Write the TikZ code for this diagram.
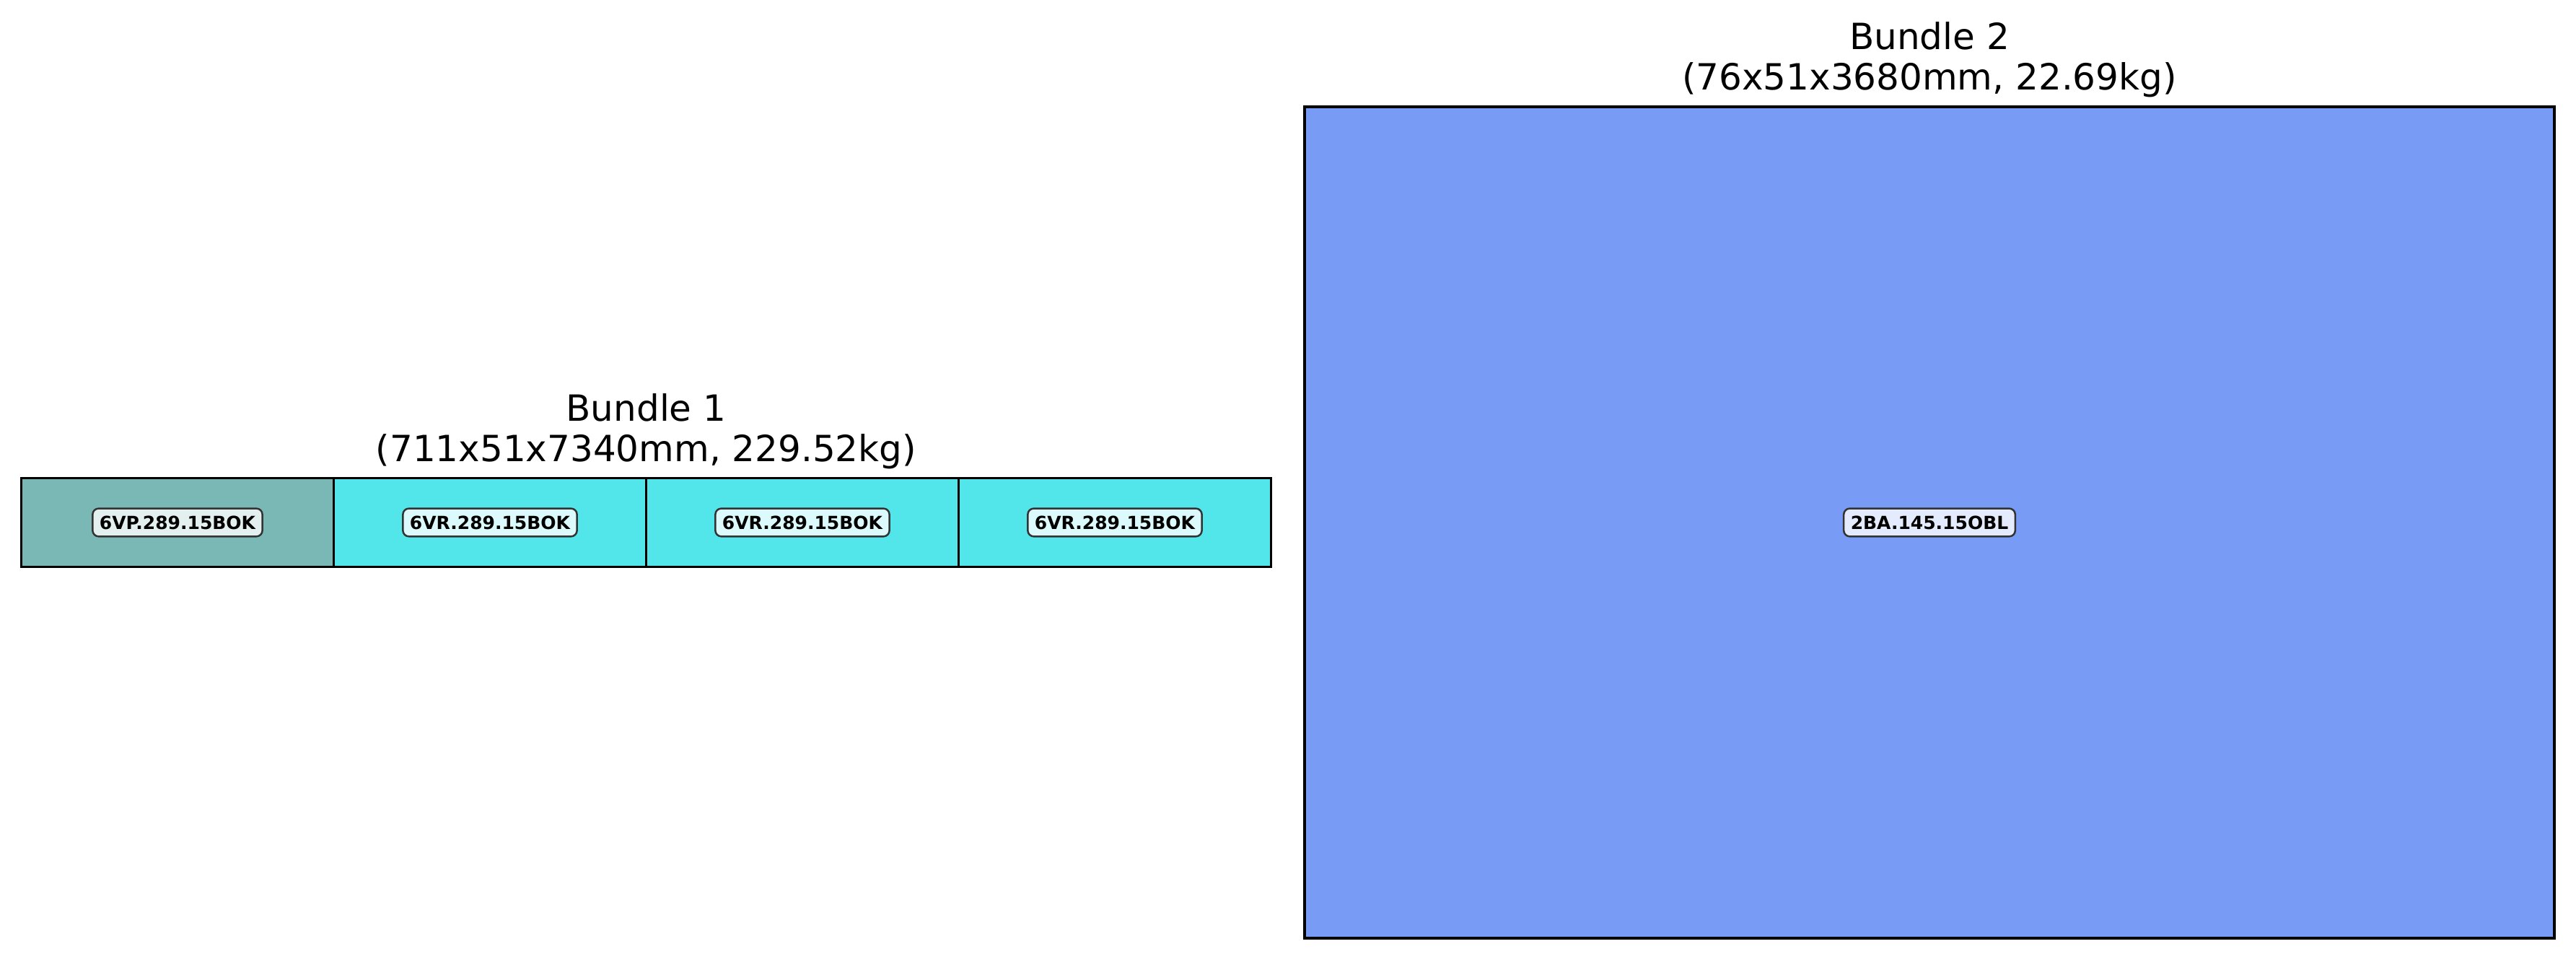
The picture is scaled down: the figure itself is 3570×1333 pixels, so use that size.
\documentclass[tikz,border=0pt]{standalone}
\usepackage{fontspec}
\setmainfont{DejaVu Sans}
\usepackage{xcolor}
\usetikzlibrary{positioning}
\definecolor{segteal}{RGB}{122,184,181}
\definecolor{segcyan}{RGB}{82,230,235}
\definecolor{segblue}{RGB}{120,155,245}

\begin{document}
\begin{tikzpicture}[x=0.24pt,y=0.24pt,
  seg/.style={rectangle, draw=black, line width=0.8pt, inner sep=0pt, outer sep=0pt, minimum width=103.92pt, minimum height=29.52pt},
  tag/.style={rectangle, rounded corners=2pt, draw=black!80, line width=0.6pt, fill=white, fill opacity=0.8, text opacity=1, font=\fontsize{6}{7}\selectfont\bfseries, inner xsep=2.3pt, inner ysep=2.4pt, text height=4.5pt, text depth=0pt},
  ttl/.style={align=center, font=\fontsize{12}{13.44}\selectfont, inner sep=0pt}]
\useasboundingbox (0,0) rectangle (3570,1333);
% Boxes
\node[seg, fill=segteal] (s1) at (246,609) {};
\node[seg, fill=segcyan, right=0pt of s1] (s2) {};
\node[seg, fill=segcyan, right=0pt of s2] (s3) {};
\node[seg, fill=segcyan, right=0pt of s3] (s4) {};
\node[seg, fill=segblue, minimum width=415.68pt, minimum height=276.48pt] (b2) at (2674,609) {};

% Labels
\node[tag] (l1) at (s1) {6VP.289.15BOK};
\node[tag] (l2) at (s2) {6VR.289.15BOK};
\node[tag] (l3) at (s3) {6VR.289.15BOK};
\node[tag] (l4) at (s4) {6VR.289.15BOK};
\node[tag] (l5) at (b2) {2BA.145.15OBL};

%Titles
\node[ttl, above=2.9pt of s2.north east] (t1) {Bundle 1\\(711x51x7340mm, 229.52kg)};
\node[ttl, above=2.9pt of b2.north] (t2) {Bundle 2\\(76x51x3680mm, 22.69kg)};
\end{tikzpicture}
\end{document}
